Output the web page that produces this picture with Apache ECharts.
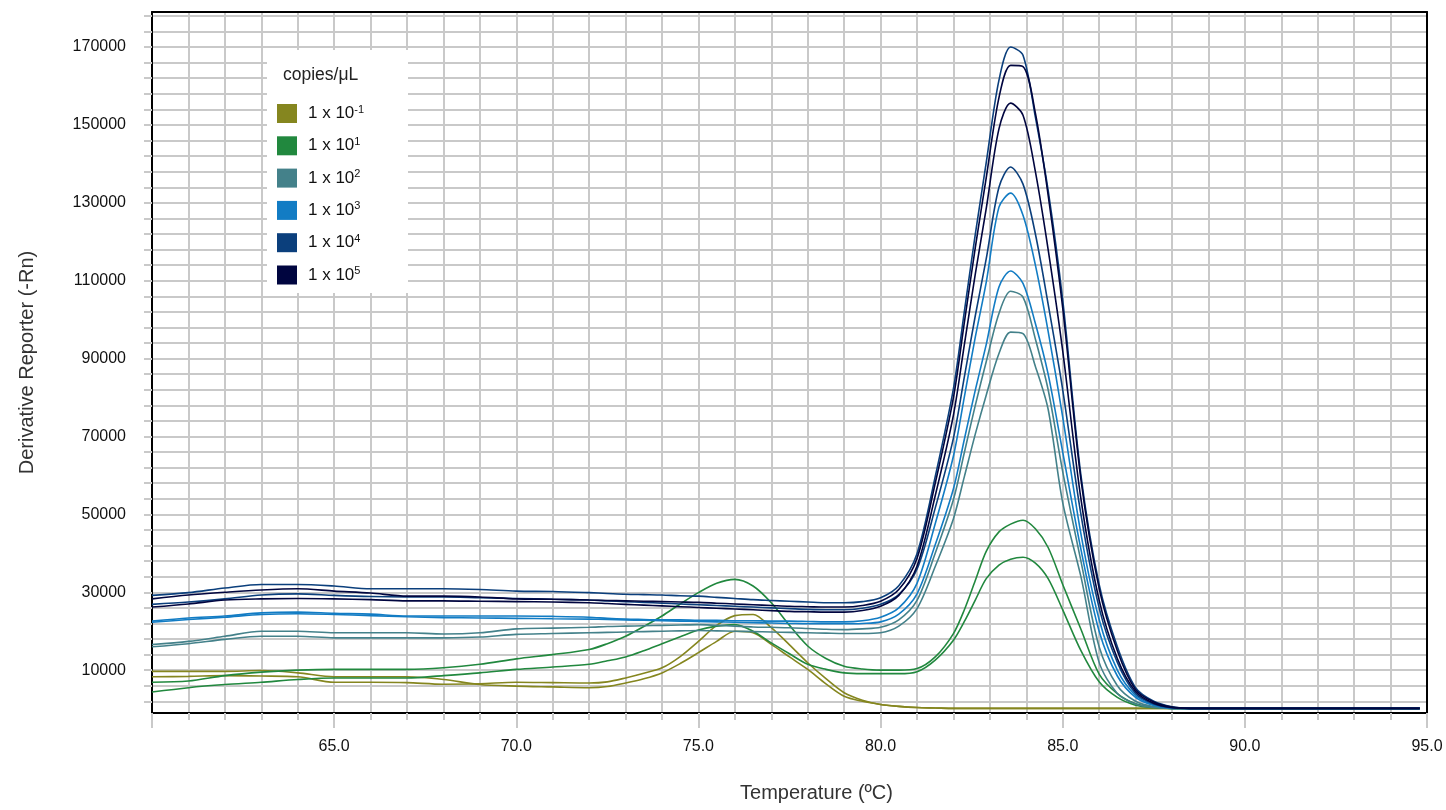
<!DOCTYPE html>
<html>
<head>
<meta charset="utf-8">
<script src="https://cdn.jsdelivr.net/npm/echarts@6/dist/echarts.min.js"></script>
<style>
html,body{margin:0;padding:0;background:#fff;}
#chart{width:1446px;height:810px;}
</style>
</head>
<body>
<div id="chart"></div>
<script>
// ---- sample temperatures (°C) ----
const temps = [60,61,62,63,64,65,66,67,68,69,70,71,72,
  72.5,73,73.5,74,74.5,75,75.5,76,76.5,77,77.5,78,78.5,79,79.5,80,80.5,81,81.5,82,
  82.3,82.6,82.9,83.25,83.57,83.91,84.25,84.6,
  85,85.5,86,86.5,87,87.5,88,88.5,
  89,90,92,94.8];

// ---- legend / concentration names ----
const concNames = ['1 x 10^-1','1 x 10^1','1 x 10^2','1 x 10^3','1 x 10^4','1 x 10^5'];
const concColors = ['#85861f','#21883e','#44818a','#127cc4','#0b3f7c','#00053f'];

// ---- series values (Derivative Reporter, -Rn) ----
const olive_a = [9700,9700,9700,9900,9300,8300,8300,8300,7600,6300,5900,5700,5500,
  5800,6700,7800,9300,11700,14500,17400,20000,19600,16600,13400,10200,6500,3300,2000,1200,700,400,300,200,
  200,200,200,200,200,200,200,200,
  200,200,200,200,200,200,200,200,
  200,200,200,200];
const olive_b = [8300,8400,8600,8500,8300,6900,6900,6800,6400,6500,6900,6800,6700,
  7000,8000,9200,10600,13500,17400,21500,24000,24300,20900,16500,11900,7800,4200,2300,1200,700,400,300,200,
  200,200,200,200,200,200,200,200,
  200,200,200,200,200,200,200,200,
  200,200,200,200];
const green_a = [6900,7200,8600,9500,10000,10200,10200,10200,10600,11500,12900,14000,15300,
  16800,18700,21200,23900,27000,29900,32300,33300,31600,27300,21500,16200,13000,11000,10300,10000,10000,10400,13400,19400,
  25500,33000,40500,45500,47500,48500,46300,41500,
  32000,20500,9000,4000,1400,500,200,200,
  200,200,200,200];
const green_b = [4400,5500,6300,6900,7600,8000,8000,8000,8600,9300,10200,10800,11500,
  12400,13400,15000,16800,18600,20300,21300,21700,20000,17000,14200,11500,10200,9300,9100,9100,9100,9600,12600,17700,
  22500,28000,33500,37000,38500,39000,37500,33500,
  25500,15000,7000,3000,1000,400,200,200,
  200,200,200,200];
const teal_a = [16600,17400,18700,20000,20000,19600,19600,19600,19300,19600,20600,20800,21000,
  21200,21300,21400,21500,21600,21700,21500,21300,21100,21000,20900,20700,20500,20400,20600,21000,22900,27900,40000,53800,
  65900,78000,89200,101600,107300,105800,95000,82000,
  61000,38000,16000,6000,2000,600,200,200,
  200,200,200,200];
const teal_b = [16000,16800,17900,18700,18700,18300,18300,18300,18300,18500,19200,19400,19600,
  19700,19800,19900,20000,20100,20200,20100,20000,19900,19800,19700,19600,19500,19400,19400,19600,21300,25800,36600,48900,
  59700,70600,80600,91300,96800,96400,88000,77000,
  53000,34000,12000,4000,1300,400,200,200,
  200,200,200,200];
const blue_a = [22600,23400,23900,24700,24900,24600,24400,23900,23900,23900,23900,23800,23600,
  23300,23100,23000,22900,22900,22800,22800,22700,22700,22600,22600,22500,22400,22400,22700,23600,26000,32300,47600,65000,
  80200,95500,109600,128900,132500,126800,114000,97000,
  75000,45000,23000,10000,3500,1100,300,200,
  200,200,200,200];
const blue_b = [22300,23000,23600,24300,24500,24300,24000,23700,23500,23400,23300,23200,23100,
  23000,22900,22800,22700,22600,22500,22400,22300,22200,22100,22000,21900,21900,21900,22000,22400,24400,29600,42200,56600,
  69300,81900,93600,108400,112500,109300,99000,86000,
  66000,41000,20000,8500,3000,900,200,200,
  200,200,200,200];
const dkblue_a = [29200,29900,31100,32000,32000,31600,30900,30900,30900,30700,30300,30200,29900,
  29700,29500,29400,29300,29100,29000,28700,28400,28100,27900,27700,27500,27300,27300,27600,28600,31700,39900,59700,82300,
  102100,121900,140300,161500,170000,167900,152000,133200,
  105000,60000,32000,16000,5500,2000,600,200,
  200,200,200,200];
const dkblue_b = [26900,27500,28300,29300,29600,29200,28900,28800,28800,28600,28400,28200,28000,
  27800,27600,27400,27200,27000,26800,26600,26400,26200,26000,25800,25600,25500,25500,25900,26900,29400,35900,51600,69600,
  85300,101000,115600,134000,139200,134800,122000,104000,
  82000,50000,26000,12000,4000,1300,300,200,
  200,200,200,200];
const navy_a = [28300,29300,30000,30600,30900,30300,29800,29000,29000,28800,28300,28200,28000,
  27900,27800,27700,27600,27500,27400,27200,27000,26800,26600,26400,26300,26200,26200,26600,27700,30700,38700,58000,80000,
  99300,118500,136400,157000,165300,165000,153000,132000,
  103000,59000,31000,15000,5000,1800,500,200,
  200,200,200,200];
const navy_b = [26200,27000,28000,28300,28400,28300,28100,27800,27800,27700,27600,27500,27300,
  27100,26900,26700,26500,26300,26100,25900,25700,25500,25300,25100,25000,24900,24900,25300,26400,29200,36700,54800,75500,
  93600,111700,128500,149000,155600,152500,138000,118000,
  92000,54000,28000,13000,4500,1500,400,200,
  200,200,200,200];

// ---- axis tick values ----
const xLabelValues = [65,70,75,80,85,90,95];
const yLabelValues = [10000,30000,50000,70000,90000,110000,130000,150000,170000];
const yGridValues = [2000,6000,10000,14000,18000,22000,26000,30000,34000,38000,42000,46000,50000,
  54000,58000,62000,66000,70000,74000,78000,82000,86000,90000,94000,98000,102000,106000,110000,
  114000,118000,122000,126000,130000,134000,138000,142000,146000,150000,154000,158000,162000,
  166000,170000,174000,178000];

const seriesDefs = [
  [0, olive_a],[0, olive_b],
  [1, green_a],[1, green_b],
  [2, teal_a],[2, teal_b],
  [3, blue_a],[3, blue_b],
  [4, dkblue_b],[4, dkblue_a],
  [5, navy_b],[5, navy_a]
];

const FONT = 'Liberation Sans, Arial, Helvetica, sans-serif';
const GRID_C = '#c9c9c9';

const series = seriesDefs.map(([ci, vals]) => ({
  name: concNames[ci],
  type: 'line',
  xAxisIndex: 0, yAxisIndex: 0,
  showSymbol: false,
  smooth: 0.3,
  color: concColors[ci],
  lineStyle: { width: 1.6, color: concColors[ci] },
  data: temps.map((t, i) => [t, vals[i]])
}));

const chart = echarts.init(document.getElementById('chart'), null, { renderer: 'canvas' });
chart.setOption({
  animation: false,
  backgroundColor: '#fff',
  textStyle: { fontFamily: FONT },
  grid: { left: 152, right: 19, top: 12, bottom: 97, containLabel: false },
  xAxis: [{
    type: 'value', min: 60, max: 95, interval: 5,
    axisLine: { onZero: false, lineStyle: { color: '#000', width: 2 } },
    axisTick: { length: 15, lineStyle: { color: GRID_C, width: 2 } },
    minorTick: { show: true, splitNumber: 5, length: 7, lineStyle: { color: GRID_C, width: 2 } },
    splitLine: { show: true, lineStyle: { color: GRID_C, width: 2 } },
    minorSplitLine: { show: true, lineStyle: { color: GRID_C, width: 2 } },
    axisLabel: { customValues: xLabelValues, formatter: v => Number(v).toFixed(1), margin: 26, fontSize: 16, color: '#111', fontFamily: FONT },
    name: 'Temperature (ºC)', nameLocation: 'middle', nameGap: 70,
    nameTextStyle: { fontSize: 20, color: '#333', fontFamily: FONT, padding: [0, 0, 0, 54] }
  }, {
    type: 'value', min: 60, max: 95, position: 'top',
    axisLine: { onZero: false, lineStyle: { color: '#000', width: 2 } },
    axisTick: { show: false }, axisLabel: { show: false }, splitLine: { show: false }
  }],
  yAxis: [{
    type: 'value', min: -1000, max: 179000,
    axisLine: { show: true, onZero: false, lineStyle: { color: '#000', width: 2 } },
    axisTick: { show: true, customValues: yGridValues, length: 8, lineStyle: { color: GRID_C, width: 2 } },
    splitLine: { show: true, lineStyle: { color: GRID_C, width: 2 } },
    axisLabel: { customValues: yLabelValues, formatter: v => String(Math.round(v)), margin: 26, fontSize: 16, color: '#111', fontFamily: FONT },
    name: 'Derivative Reporter (-Rn)', nameLocation: 'middle', nameGap: 115,
    nameTextStyle: { fontSize: 20, color: '#333', fontFamily: FONT }
  }, {
    type: 'value', min: -1000, max: 179000, position: 'right',
    axisLine: { show: true, onZero: false, lineStyle: { color: '#000', width: 2 } },
    axisTick: { show: false }, axisLabel: { show: false }, splitLine: { show: false }
  }],
  legend: {
    data: concNames,
    orient: 'vertical',
    left: 277, top: 104,
    padding: 0,
    itemWidth: 20, itemHeight: 19, itemGap: 13.3,
    icon: 'rect',
    z: 10,
    formatter: name => {
      const p = name.split('^');
      return '{b|' + p[0] + '}{s|' + p[1] + '}';
    },
    textStyle: {
      fontFamily: FONT, color: '#111',
      rich: {
        b: { fontSize: 17, lineHeight: 19, color: '#111', fontFamily: FONT, padding: [0, 0, 0, 6] },
        s: { fontSize: 11, lineHeight: 12, verticalAlign: 'top', color: '#111', fontFamily: FONT }
      }
    }
  },
  graphic: [
    { type: 'rect', z: 8, shape: { x: 267, y: 50, width: 141, height: 243 }, style: { fill: '#fff' } },
    { type: 'text', z: 11, x: 283, y: 75, style: { text: 'copies/μL', fill: '#222', font: '17.5px ' + FONT, verticalAlign: 'middle' } }
  ],
  series: series
});
</script>
</body>
</html>
